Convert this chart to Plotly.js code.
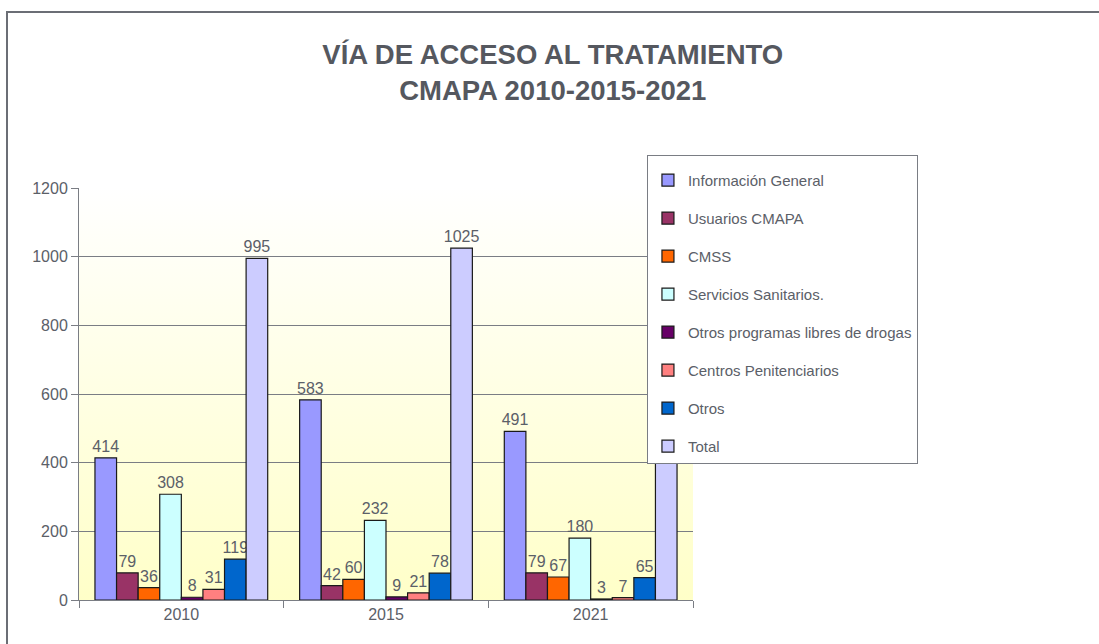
<!DOCTYPE html>
<html>
<head>
<meta charset="utf-8">
<script src="https://cdn.plot.ly/plotly-3.0.1.min.js"></script>
<style>
  html, body { margin: 0; padding: 0; background: #ffffff; }
  #wrap { position: relative; width: 1099px; height: 644px; }
  #chart { width: 1099px; height: 644px; }
  #frame { position: absolute; left: 6px; top: 11px; right: 0; bottom: 0;
           border-top: 2px solid #6b6e75; border-left: 2px solid #6b6e75; pointer-events: none; }
</style>
</head>
<body>
<div id="wrap">
  <div id="chart"></div>
  <div id="frame"></div>
</div>
<script>
const years = ["2010", "2015", "2021"];
const seriesNames = [
  "Información General",
  "Usuarios CMAPA",
  "CMSS",
  "Servicios Sanitarios.",
  "Otros programas libres de drogas",
  "Centros Penitenciarios",
  "Otros",
  "Total"
];
const informacionGeneral = [414, 583, 491];
const usuariosCMAPA = [79, 42, 79];
const cmss = [36, 60, 67];
const serviciosSanitarios = [308, 232, 180];
const otrosProgramas = [8, 9, 3];
const centrosPenitenciarios = [31, 21, 7];
const otros = [119, 78, 65];
const total = [995, 1025, 892];
const yTicks = [0, 200, 400, 600, 800, 1000, 1200];

const seriesValues = [informacionGeneral, usuariosCMAPA, cmss, serviciosSanitarios,
  otrosProgramas, centrosPenitenciarios, otros, total];
const colors = ["#9999FF", "#993366", "#FF6600", "#CCFFFF", "#660066", "#FF8080", "#0066CC", "#CCCCFF"];

const textColor = "#5b6068";
const traces = seriesNames.map((name, i) => ({
  type: "bar",
  name: name,
  x: years,
  y: seriesValues[i],
  text: seriesValues[i].map(String),
  textposition: "outside",
  constraintext: "none",
  cliponaxis: false,
  textfont: { family: "Liberation Sans, Arial, sans-serif", size: 16, color: textColor },
  marker: { color: colors[i], line: { color: "#1a1a1a", width: 1.2 } },
  legendgroup: "g" + i,
  hoverinfo: "skip"
}));

const gradSvg = '<svg xmlns="http://www.w3.org/2000/svg" width="100" height="100" preserveAspectRatio="none">' +
  '<defs><linearGradient id="g" x1="0" y1="0" x2="0" y2="1">' +
  '<stop offset="0" stop-color="#FFFFFF"/><stop offset="1" stop-color="#FFFFC8"/></linearGradient></defs>' +
  '<rect width="100" height="100" fill="url(#g)"/></svg>';

const layout = {
  width: 1099,
  height: 644,
  margin: { l: 79, r: 406, t: 188, b: 44 },
  paper_bgcolor: "rgba(0,0,0,0)",
  plot_bgcolor: "rgba(0,0,0,0)",
  font: { family: "Liberation Sans, Arial, sans-serif", size: 16, color: textColor },
  title: {
    text: "<b>VÍA DE ACCESO AL TRATAMIENTO<br>CMAPA 2010-2015-2021</b>",
    font: { family: "Liberation Sans, Arial, sans-serif", size: 27.5, color: "#55585f" },
    xref: "container", x: 0.503, xanchor: "center",
    yref: "container", y: 0.90, yanchor: "top"
  },
  barmode: "group",
  bargap: 0.156,
  bargroupgap: 0,
  xaxis: {
    type: "category",
    tickson: "boundaries",
    ticks: "outside",
    ticklen: 7,
    tickcolor: "#7a7d84",
    showline: true,
    linecolor: "#7a7d84",
    linewidth: 1,
    showgrid: false,
    tickfont: { size: 16, color: textColor },
    fixedrange: true
  },
  yaxis: {
    range: [0, 1200],
    tickvals: yTicks,
    ticks: "outside",
    ticklen: 7,
    tickcolor: "#7a7d84",
    showline: true,
    linecolor: "#7a7d84",
    linewidth: 1,
    showgrid: true,
    gridcolor: "#7a7d84",
    gridwidth: 1,
    zeroline: false,
    tickfont: { size: 16, color: textColor },
    fixedrange: true
  },
  legend: {
    x: 0.925, xanchor: "left",
    y: 1.08, yanchor: "top",
    bgcolor: "#ffffff",
    bordercolor: "#7a7d84",
    borderwidth: 1,
    font: { family: "Liberation Sans, Arial, sans-serif", size: 15, color: textColor },
    title: { text: " ", font: { size: 6 } },
    tracegroupgap: 15.5,
    traceorder: "grouped"
  },
  images: [{
    source: "data:image/svg+xml;charset=utf-8," + encodeURIComponent(gradSvg),
    xref: "paper", yref: "paper",
    x: 0, y: 1, sizex: 1, sizey: 1,
    xanchor: "left", yanchor: "top",
    sizing: "stretch",
    layer: "below"
  }],
  showlegend: true
};

Plotly.newPlot("chart", traces, layout, { displayModeBar: false, staticPlot: true });
</script>
</body>
</html>
